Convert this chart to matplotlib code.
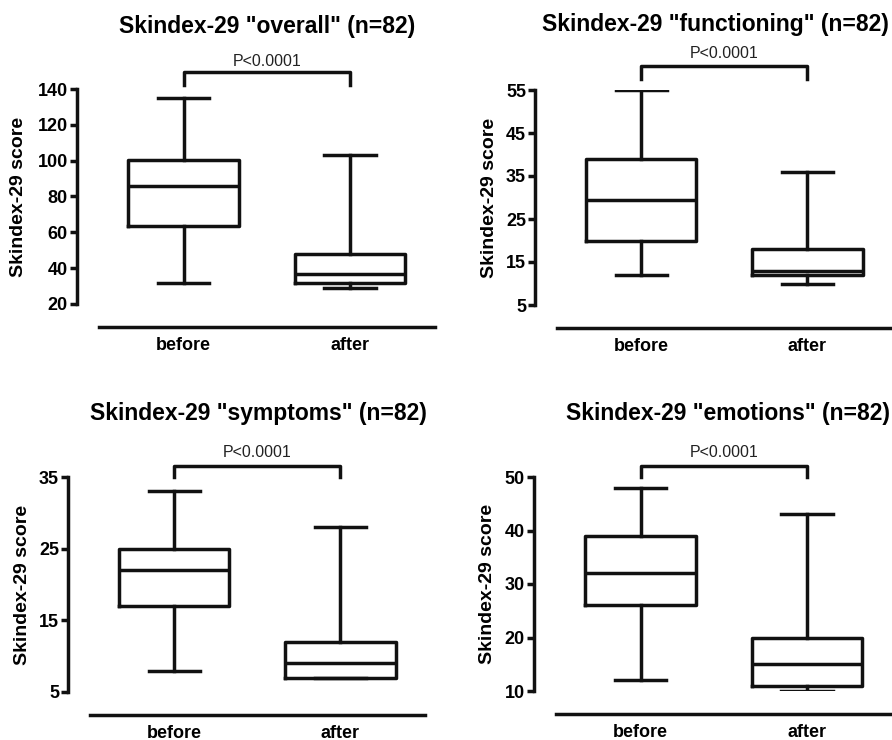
import matplotlib
matplotlib.use('Agg')
import matplotlib.pyplot as plt

plt.rcParams['font.family'] = ['Liberation Sans', 'DejaVu Sans']

groups = ['before', 'after']
titles = ['Skindex-29 "overall" (n=82)', 'Skindex-29 "functioning" (n=82)',
          'Skindex-29 "symptoms" (n=82)', 'Skindex-29 "emotions" (n=82)']

# five-number summaries: [low whisker, Q1, median, Q3, high whisker]
overall_before = [32, 63.5, 86, 100.5, 135]
overall_after = [29, 32, 37, 48, 103]
functioning_before = [12, 20, 29.5, 39, 55]
functioning_after = [10, 12, 12.8, 18, 36]
symptoms_before = [8, 17, 22, 25, 33]
symptoms_after = [7, 7, 9, 12, 28]
emotions_before = [12, 26, 32, 39, 48]
emotions_after = [10, 11, 15, 20, 43]

yticks = [list(range(20, 141, 20)), list(range(5, 56, 10)),
          list(range(5, 36, 10)), list(range(10, 51, 10))]
p_text = 'P<0.0001'

data = [(overall_before, overall_after), (functioning_before, functioning_after),
        (symptoms_before, symptoms_after), (emotions_before, emotions_after)]

W, H = 892, 740
fig = plt.figure(figsize=(W / 100, H / 100), dpi=100)

# axes rects in pixels: left, top, right, bottom
rects = [(77, 89, 435, 304), (535, 90, 892, 305), (68, 477, 425, 692), (534, 477, 892, 691)]
title_pos = [(267, 26), (715, 24), (258, 414), (728, 414)]
ylab_x = [-0.14, -0.104, -0.104, -0.106]
# bracket: bar y, end y, text y (axes fraction)
brackets = [(1.079, 1.019, 1.13), (1.112, 1.051, 1.172), (1.051, 1.0, 1.116), (1.051, 1.0, 1.116)]

lw = 2.5
col = '#111111'
for i in range(4):
    l, t, r, b = rects[i]
    ax = fig.add_axes([l / W, (H - b) / H, (r - l) / W, (b - t) / H])
    stats = []
    for name, v in zip(groups, data[i]):
        stats.append(dict(label=name, whislo=v[0], q1=v[1], med=v[2], q3=v[3], whishi=v[4], fliers=[]))
    ax.bxp(stats, positions=[1, 2], widths=0.665, capwidths=0.31, showfliers=False,
           boxprops=dict(color=col, linewidth=lw),
           medianprops=dict(color=col, linewidth=lw),
           whiskerprops=dict(color=col, linewidth=lw),
           capprops=dict(color=col, linewidth=lw))
    ax.set_xlim(0.36, 2.51)
    ax.set_ylim(yticks[i][0], yticks[i][-1])
    ax.set_yticks(yticks[i])
    ax.spines['top'].set_visible(False)
    ax.spines['right'].set_visible(False)
    ax.spines['left'].set_linewidth(lw)
    ax.spines['left'].set_color(col)
    ax.spines['bottom'].set_linewidth(lw)
    ax.spines['bottom'].set_color(col)
    ax.spines['bottom'].set_position(('outward', 16.5))
    ax.spines['bottom'].set_bounds(0.49, 2.51)
    ax.tick_params(axis='y', direction='out', length=5, width=lw, color=col, labelsize=13, pad=1.5)
    ax.tick_params(axis='x', length=0, labelsize=13, pad=7)
    for lab in ax.get_xticklabels() + ax.get_yticklabels():
        lab.set_fontweight('bold')
    ax.set_ylabel('Skindex-29 score', fontsize=14, fontweight='bold')
    ax.yaxis.set_label_coords(ylab_x[i], 0.5)
    ax.patch.set_visible(False)

    by, ey, ty = brackets[i]
    tr = ax.get_xaxis_transform()
    ax.plot([1, 1, 2, 2], [ey, by, by, ey], color=col, linewidth=lw, transform=tr, clip_on=False)
    ax.text(1.5, ty, p_text, transform=tr, ha='center', va='center', fontsize=11.5, color='#222222')

    tx, tyy = title_pos[i]
    fig.text(tx / W, 1 - tyy / H, titles[i], ha='center', va='center', fontsize=16.5, fontweight='bold')

fig.savefig('out.png', dpi=100)
